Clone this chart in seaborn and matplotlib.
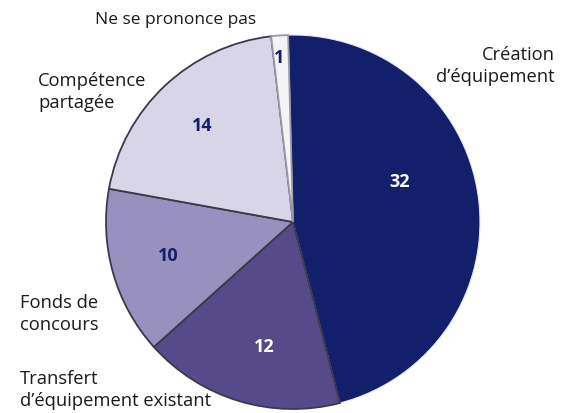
import matplotlib
matplotlib.use("Agg")
import matplotlib.pyplot as plt
import seaborn as sns

# ---- data ----
categories = ["Création\nd\u2019équipement", "Transfert\nd\u2019équipement existant",
              "Fonds de\nconcours", "Compétence\npartagée", "Ne se prononce pas"]
values = [32, 12, 10, 14, 1]
colors = ["#141f6b", "#564a8a", "#9890bf", "#d8d5e8", "#f4f4f6"]
value_text_colors = ["white", "white", "#141f6b", "#141f6b", "#141f6b"]

sns.set_theme(style="white")
plt.rcParams["font.family"] = ["Open Sans", "DejaVu Sans"]

W, H = 574, 413
fig = plt.figure(figsize=(W / 100, H / 100), dpi=100)
ax = fig.add_axes([0, 0, 1, 1])

def py(y):
    return H - y

cx, cy, r = 293, py(222), 187
wedges, _ = ax.pie(values, colors=colors, startangle=91.5, counterclock=False,
                   center=(cx, cy), radius=r, frame=True,
                   wedgeprops=dict(edgecolor="#3a3a48", linewidth=1.3))
ax.set_xlim(0, W)
ax.set_ylim(0, H)
ax.set_aspect("equal")
ax.axis("off")
wedges[0].set_edgecolor("#e8e8f0")
wedges[0].set_linewidth(0.8)
wedges[4].set_edgecolor("#9a9aa4")

# value labels inside slices
value_pos = [(400, 182), (264, 347), (168, 256), (202, 126), (279, 58)]
for v, (x, y), c in zip(values, value_pos, value_text_colors):
    ax.text(x, py(y), str(v), color=c, fontsize=13, fontweight="bold",
            ha="center", va="center")

# category labels outside
label_pos = [(555, 66, "right"), (20, 390, "left"), (20, 314, "left"),
             (38, 92, "left"), (95, 20, "left")]
label_sizes = [13.2, 13.2, 13.2, 13.2, 12.5]
for lab, (x, y, ha), fs in zip(categories, label_pos, label_sizes):
    ax.text(x, py(y), lab, color="#1a1a1a", fontsize=fs, ha=ha, va="center",
            linespacing=1.25, multialignment=ha)

fig.savefig("out.png", dpi=100)
